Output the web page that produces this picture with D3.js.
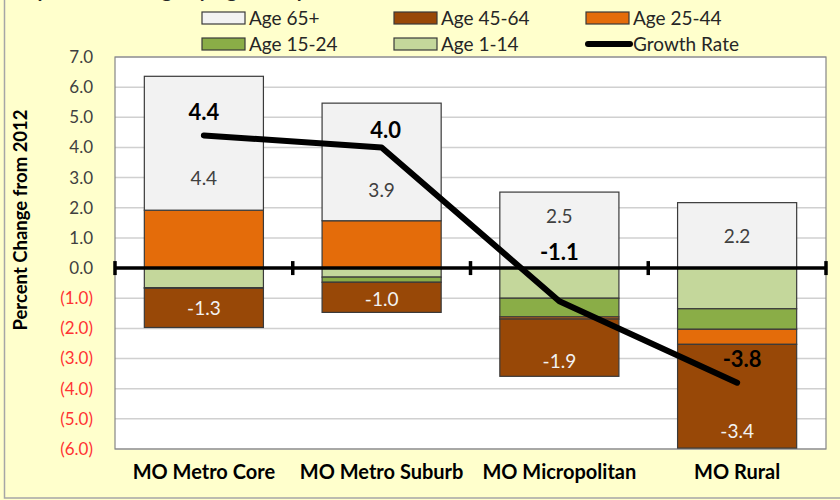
<!DOCTYPE html>
<html><head><meta charset="utf-8">
<script src="https://cdn.jsdelivr.net/npm/d3@7"></script>
<style>html,body{margin:0;padding:0;background:#ffffcc;}svg{display:block;font-family:Lato,"Open Sans",sans-serif;}</style>
</head><body><svg id="c" width="840" height="500"></svg>
<script>
const categories = ["MO Metro Core", "MO Metro Suburb", "MO Micropolitan", "MO Rural"];
const seriesNames = ["Age 1-14", "Age 15-24", "Age 25-44", "Age 45-64", "Age 65+"];
const age1_14  = [-0.65, -0.30, -1.00, -1.35];
const age15_24 = [-0.02, -0.17, -0.62, -0.68];
const age25_44 = [1.92, 1.57, -0.07, -0.50];
const age45_64 = [-1.30, -1.00, -1.90, -3.44];
const age65    = [4.44, 3.90, 2.52, 2.17];
const growthRate = [4.4, 4.0, -1.1, -3.8];
const yTicks = [-6, -5, -4, -3, -2, -1, 0, 1, 2, 3, 4, 5, 6, 7];
const legendOrder = ["Age 65+", "Age 45-64", "Age 25-44", "Age 15-24", "Age 1-14", "Growth Rate"];

const colors = {"Age 1-14":"#c4d79b","Age 15-24":"#8aad47","Age 25-44":"#e46c0a","Age 45-64":"#984807","Age 65+":"#f2f2f2"};
const seriesData = {"Age 1-14":age1_14,"Age 15-24":age15_24,"Age 25-44":age25_44,"Age 45-64":age45_64,"Age 65+":age65};
const f1 = v => v.toFixed(1);

const svg = d3.select("#c");
const L = 115, R = 826, T = 57, B = 449;

// outer border + cut-off title
svg.append("rect").attr("x",4.5).attr("y",-10).attr("width",850).attr("height",508)
  .attr("fill","#ffffcc").attr("stroke","#a6a6a6").attr("stroke-width",1.5);
svg.append("text").attr("x",14).attr("y",-3).attr("font-weight","bold").attr("font-size",20)
  .attr("fill","#262626").text("Population Change by Age Group, 2012-2017");

const x = d3.scaleBand().domain(categories).range([L, R]).paddingInner(0.33).paddingOuter(0.165);
const y = d3.scaleLinear().domain([-6, 7]).range([B, T]);

// plot area
svg.append("rect").attr("x",L).attr("y",T).attr("width",R-L).attr("height",B-T).attr("fill","#ffffff");
svg.append("g").selectAll("line").data(yTicks.filter(d=>d!==0)).join("line")
  .attr("x1",L).attr("x2",R).attr("y1",d=>y(d)).attr("y2",d=>y(d))
  .attr("stroke","#d0d0d0").attr("stroke-width",1.5);
svg.append("rect").attr("x",L).attr("y",T).attr("width",R-L).attr("height",B-T)
  .attr("fill","none").attr("stroke","#868686").attr("stroke-width",1.2);

// y axis
const yAxis = d3.axisLeft(y).tickValues(yTicks).tickSize(0).tickPadding(0)
  .tickFormat(d => d < 0 ? "(" + f1(-d) + ")" : f1(d));
const ga = svg.append("g").attr("transform",`translate(${L-22},0)`).call(yAxis);
ga.select(".domain").remove();
ga.selectAll("text").attr("font-size",17).attr("font-family","Lato,sans-serif")
  .attr("fill", d => d < 0 ? "#ff3333" : "#404040");

svg.append("text").attr("transform","translate(21,220) rotate(-90)").attr("text-anchor","middle")
  .attr("dy","0.35em").attr("font-weight","bold").attr("font-size",18.5).attr("fill","#000").text("Percent Change from 2012");

// stacked bars
const rows = categories.map((c,i)=>{const o={cat:c}; seriesNames.forEach(s=>o[s]=seriesData[s][i]); return o;});
const stack = d3.stack().keys(seriesNames).offset(d3.stackOffsetDiverging)(rows);
stack.forEach(layer=>{
  svg.append("g").selectAll("rect").data(layer).join("rect")
    .attr("x",d=>x(d.data.cat)).attr("width",x.bandwidth())
    .attr("y",d=>y(Math.max(d[0],d[1]))).attr("height",d=>Math.abs(y(d[0])-y(d[1])))
    .attr("fill",colors[layer.key]).attr("stroke","#3a3a3a").attr("stroke-width",1.2);
});

// zero line with ticks
svg.append("line").attr("x1",L).attr("x2",R).attr("y1",y(0)).attr("y2",y(0)).attr("stroke","#000").attr("stroke-width",3.5);
const bounds = categories.map(c=>x(c)-x.step()*x.paddingInner()/2).concat([R]);
svg.append("g").selectAll("line").data(bounds).join("line")
  .attr("x1",d=>d).attr("x2",d=>d).attr("y1",y(0)-7).attr("y2",y(0)+7).attr("stroke","#000").attr("stroke-width",3.5);

// segment labels
const layer65 = stack.find(l=>l.key==="Age 65+");
const layer45 = stack.find(l=>l.key==="Age 45-64");
const nudge65 = [35, 28, -14, 1], nudge45 = [0, 2, 13, 35];
svg.append("g").selectAll("text").data(layer65).join("text")
  .attr("x",d=>x(d.data.cat)+x.bandwidth()/2).attr("y",(d,i)=>y((d[0]+d[1])/2)+nudge65[i])
  .attr("dy","0.36em").attr("text-anchor","middle").attr("font-size",19).attr("fill","#404040")
  .text(d=>f1(d.data["Age 65+"]));
svg.append("g").selectAll("text").data(layer45).join("text")
  .attr("x",d=>x(d.data.cat)+x.bandwidth()/2).attr("y",(d,i)=>y((d[0]+d[1])/2)+nudge45[i])
  .attr("dy","0.36em").attr("text-anchor","middle").attr("font-size",19).attr("fill","#f2f2f2")
  .text(d=>f1(d.data["Age 45-64"]));

// growth line
const cx = c => x(c) + x.bandwidth()/2;
svg.append("path").datum(growthRate)
  .attr("d", d3.line().x((d,i)=>cx(categories[i])).y(d=>y(d)))
  .attr("fill","none").attr("stroke","#000").attr("stroke-width",6).attr("stroke-linecap","round").attr("stroke-linejoin","round");
const gNudgeY = [-23, -17, -49, -24], gNudgeX = [0, 4, 0, 5];
svg.append("g").selectAll("text").data(growthRate).join("text")
  .attr("x",(d,i)=>cx(categories[i])+gNudgeX[i]).attr("y",(d,i)=>y(d)+gNudgeY[i])
  .attr("dy","0.36em").attr("text-anchor","middle").attr("font-weight","bold").attr("font-size",22).attr("fill","#000")
  .text(d=>f1(d));

// category labels
svg.append("g").selectAll("text").data(categories).join("text")
  .attr("x",d=>cx(d)).attr("y",479).attr("text-anchor","middle").attr("font-weight","bold").attr("font-size",20).attr("fill","#000")
  .text(d=>d);

// legend
const legX = [202, 394, 586], legY = [18, 44];
const lg = svg.append("g").selectAll("g").data(legendOrder).join("g")
  .attr("transform",(d,i)=>`translate(${legX[i%3]},${legY[Math.floor(i/3)]})`);
lg.each(function(d){
  const g = d3.select(this);
  if (d === "Growth Rate") {
    g.append("line").attr("x1",2).attr("x2",44).attr("y1",0).attr("y2",0).attr("stroke","#000").attr("stroke-width",6).attr("stroke-linecap","round");
  } else {
    g.append("rect").attr("x",0).attr("y",-6).attr("width",43).attr("height",12).attr("fill",colors[d]).attr("stroke","#3a3a3a").attr("stroke-width",1.2);
  }
  g.append("text").attr("x",47).attr("y",0).attr("dy","0.36em").attr("font-size",19).attr("fill","#262626").text(d);
});
</script></body></html>
